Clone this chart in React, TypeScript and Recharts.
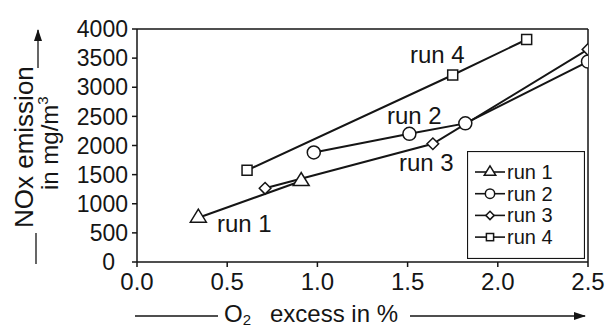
import React from "react";
import { Legend, Line, LineChart, ReferenceLine, XAxis, YAxis } from "recharts";

const xTicks = [0, 0.5, 1, 1.5, 2, 2.5];
const yTicks = [0, 500, 1000, 1500, 2000, 2500, 3000, 3500, 4000];

const run1X = [0.34, 0.91];
const run1Y = [760, 1390];
const run2X = [0.98, 1.51, 1.82, 2.5];
const run2Y = [1880, 2200, 2380, 3440];
const run3X = [0.71, 1.64, 2.5];
const run3Y = [1265, 2030, 3650];
const run4X = [0.61, 1.75, 2.16];
const run4Y = [1575, 3210, 3820];

const seriesNames = ["run 1", "run 2", "run 3", "run 4"];
const seriesShapes = ["triangle", "circle", "diamond", "square"];

const toPoints = (xs: number[], ys: number[]) => xs.map((x, i) => ({ x, y: ys[i] }));
const seriesData = [
  toPoints(run1X, run1Y),
  toPoints(run2X, run2Y),
  toPoints(run3X, run3Y),
  toPoints(run4X, run4Y),
];

const INK = "#151515";
const FONT = "'Liberation Sans', Arial, sans-serif";

function Marker({ cx, cy, shape, small }: { cx: number; cy: number; shape: string; small?: boolean }) {
  const k = small ? 0.72 : 1;
  const common = { fill: "#fff", stroke: INK, strokeWidth: 1.5 };
  if (shape === "triangle") {
    const h = 8 * k;
    return (
      <polygon
        points={`${cx},${cy - 8.5 * k} ${cx - h},${cy + 4.5 * k} ${cx + h},${cy + 4.5 * k}`}
        {...common}
      />
    );
  }
  if (shape === "circle") return <circle cx={cx} cy={cy} r={6.5 * k} {...common} />;
  if (shape === "diamond") {
    const d = 5.8 * k;
    return <polygon points={`${cx},${cy - d} ${cx + d},${cy} ${cx},${cy + d} ${cx - d},${cy}`} {...common} />;
  }
  const s = 5 * k;
  return <rect x={cx - s} y={cy - s} width={s * 2} height={s * 2} {...common} />;
}

// the "0" label sits a bit left of the others in the original
function YTick(props: any) {
  const { x, y, payload } = props;
  const shift = payload.value === 0 ? 13 : 0;
  return (
    <text x={x - shift} y={y} dy="0.355em" textAnchor="end" fontSize={23} fontFamily={FONT} fill={INK}>
      {payload.value}
    </text>
  );
}

function LegendBox() {
  return (
    <svg width={118} height={108} style={{ display: "block" }}>
      <rect x={0.5} y={0.5} width={117} height={107} fill="#fff" stroke={INK} strokeWidth={1.2} />
      {seriesNames.map((name, i) => {
        const cy = 21 + i * 21.7;
        return (
          <g key={name}>
            <line x1={8} x2={38} y1={cy} y2={cy} stroke={INK} strokeWidth={1.6} />
            <Marker cx={23} cy={cy} shape={seriesShapes[i]} small />
            <text x={40} y={cy + 7} fontSize={20} fontFamily={FONT} fill={INK}>
              {name}
            </text>
          </g>
        );
      })}
    </svg>
  );
}

export default function App() {
  return (
    <div style={{ position: "absolute", left: 0, top: 0, width: 612, height: 327, background: "#fff" }}>
      <LineChart width={612} height={327} margin={{ top: 29, right: 24, left: 0, bottom: 0 }}>
        <XAxis
          dataKey="x"
          type="number"
          domain={[0, 2.5]}
          ticks={xTicks}
          interval={0}
          allowDataOverflow
          tickFormatter={(v: number) => v.toFixed(1)}
          height={65}
          tickSize={5}
          tickMargin={6}
          stroke={INK}
          strokeWidth={1.5}
          tick={{ fill: INK, fontSize: 24, fontFamily: FONT }}
        />
        <YAxis
          type="number"
          domain={[0, 4000]}
          ticks={yTicks}
          interval={0}
          width={137}
          tickSize={5}
          tickMargin={4}
          stroke={INK}
          strokeWidth={1.5}
          tick={<YTick />}
        />
        <ReferenceLine y={4000} stroke={INK} strokeWidth={1.5} />
        <ReferenceLine x={2.5} stroke={INK} strokeWidth={1.5} />
        {seriesData.map((data, i) => (
          <Line
            key={seriesNames[i]}
            data={data}
            dataKey="y"
            name={seriesNames[i]}
            type="linear"
            stroke={INK}
            strokeWidth={2}
            isAnimationActive={false}
            dot={(p: any) => <Marker key={`${i}-${p.index}`} cx={p.cx} cy={p.cy} shape={seriesShapes[i]} />}
            activeDot={false}
          />
        ))}
        <Legend
          layout="vertical"
          align="center"
          verticalAlign="middle"
          content={() => <LegendBox />}
          wrapperStyle={{ position: "absolute", left: 467, top: 151, width: 118, height: 108 }}
        />
      </LineChart>
      <svg
        width={612}
        height={327}
        style={{ position: "absolute", left: 0, top: 0, pointerEvents: "none" }}
        fontFamily={FONT}
        fill={INK}
      >
        <defs>
          <marker id="arr" markerWidth={12} markerHeight={8} refX={11} refY={4} orient="auto" markerUnits="userSpaceOnUse">
            <path d="M0,0 L12,4 L0,8 z" fill={INK} />
          </marker>
        </defs>
        <text x={410} y={63} fontSize={24}>run 4</text>
        <text x={387} y={124} fontSize={24}>run 2</text>
        <text x={399} y={171} fontSize={24}>run 3</text>
        <text x={217} y={232} fontSize={24}>run 1</text>

        <line x1={135} x2={218} y1={316} y2={316} stroke={INK} strokeWidth={1.3} />
        <text x={224} y={322} fontSize={24}>
          O<tspan fontSize={15} dy={3}>2</tspan>
          <tspan x={270} dy={-3}>excess in %</tspan>
        </text>
        <line x1={410} x2={585} y1={316} y2={316} stroke={INK} strokeWidth={1.3} markerEnd="url(#arr)" />

        <line x1={36} x2={36} y1={264} y2={233} stroke={INK} strokeWidth={1.3} />
        <text transform="translate(33,228) rotate(-90)" fontSize={26}>NOx emission</text>
        <text transform="translate(58,190) rotate(-90)" fontSize={24}>
          in mg/m<tspan fontSize={15} dy={-10}>3</tspan>
        </text>
        <line x1={38} x2={38} y1={68} y2={30} stroke={INK} strokeWidth={1.3} markerEnd="url(#arr)" />
      </svg>
    </div>
  );
}
